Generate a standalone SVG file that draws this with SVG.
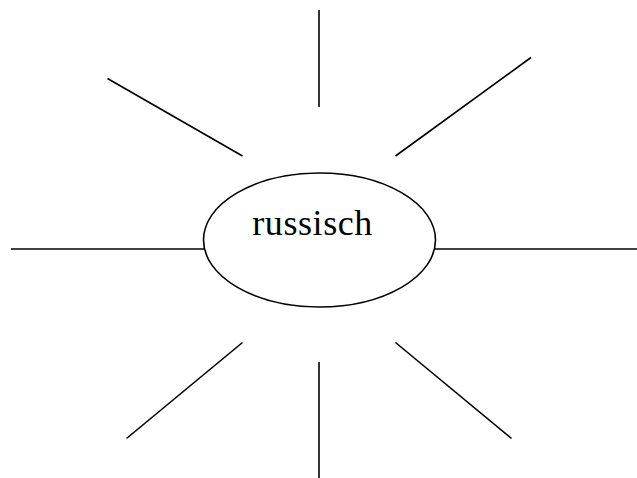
<svg xmlns="http://www.w3.org/2000/svg" width="637" height="478" viewBox="0 0 637 478">
<style>
.ln{stroke:#000;stroke-width:1.6;fill:none}
.nd{stroke:#000;stroke-width:1.6;fill:#fff}
.lbl{font-family:"Liberation Serif","Times New Roman",serif;font-size:36px;fill:#000}
</style>
<rect width="637" height="478" fill="#fff"/>
<g id="connectors">
<line class="ln" x1="319" y1="10" x2="319" y2="107"/>
<line class="ln" x1="107.5" y1="78.5" x2="242.5" y2="156"/>
<line class="ln" x1="531" y1="57.5" x2="395.5" y2="156"/>
<line class="ln" x1="11" y1="249" x2="204" y2="249"/>
<line class="ln" x1="435" y1="249" x2="637" y2="249"/>
<line class="ln" x1="242.5" y1="342.5" x2="126.5" y2="438.5"/>
<line class="ln" x1="319" y1="362" x2="319" y2="478"/>
<line class="ln" x1="395.5" y1="342.5" x2="511.5" y2="438.5"/>
</g>
<g id="node-russisch">
<ellipse class="nd" cx="319.5" cy="240" rx="116" ry="67"/>
<text class="lbl" x="252.3" y="235" textLength="120" lengthAdjust="spacing">russisch</text>
</g>
</svg>
